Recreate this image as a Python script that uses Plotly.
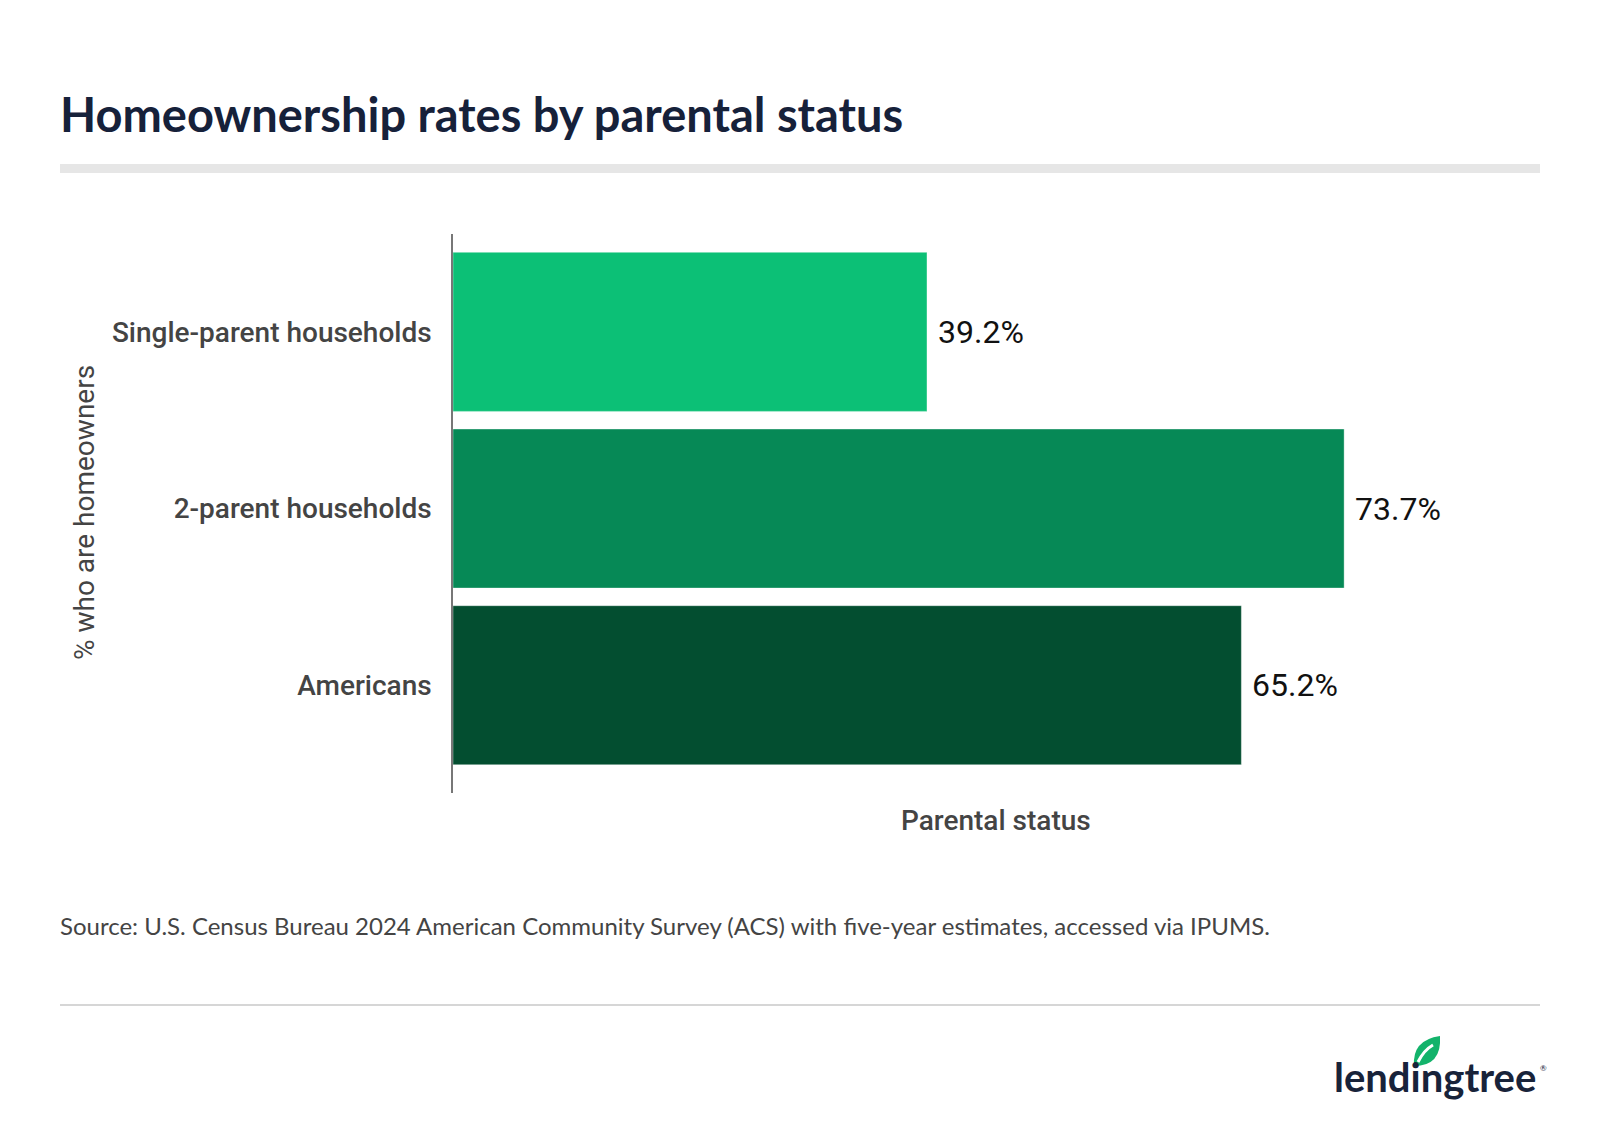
import plotly.graph_objects as go

categories = ["Single-parent households", "2-parent households", "Americans"]
values = [39.2, 73.7, 65.2]
bar_colors = ["#0cc076", "#068956", "#034e30"]

title_text = "Homeownership rates by parental status"
y_title = "% who are homeowners"
x_title = "Parental status"
source_text = "Source: U.S. Census Bureau 2024 American Community Survey (ACS) with five-year estimates, accessed via IPUMS."

W, H = 1600, 1128
L, R, T, B = 453, 60, 234, 335
PW = W - L - R
PH = H - T - B


def px(x):
    return (x - L) / PW


def py(y):
    return (H - B - y) / PH


fig = go.Figure()
fig.add_trace(go.Bar(
    x=values,
    y=categories,
    orientation="h",
    marker=dict(color=bar_colors, line=dict(color="rgba(255,255,255,0.35)", width=1)),
    hoverinfo="skip",
))

fig.update_layout(
    width=W, height=H,
    margin=dict(l=L, r=R, t=T, b=B, autoexpand=False),
    paper_bgcolor="white",
    plot_bgcolor="white",
    showlegend=False,
    bargap=0.1,
    xaxis=dict(range=[0, 89.9], showgrid=False, zeroline=False, showticklabels=False,
               ticks="", showline=False, fixedrange=True),
    yaxis=dict(type="category", categoryorder="array", categoryarray=categories,
               range=[2.61, -0.554], showgrid=False, zeroline=False,
               showline=True, linecolor="#777777", linewidth=1.5,
               ticks="", ticklabelstandoff=14,
               tickfont=dict(family="Roboto", size=28, color="#444444", weight=500)),
)

annotations = [
    dict(text=title_text, x=px(58), y=py(114), xanchor="left", yanchor="middle",
         font=dict(family="Lato", size=47, color="#16213a", weight=700)),
    dict(text=y_title, x=px(84), y=py(513), xanchor="center", yanchor="middle", textangle=-90,
         font=dict(family="Roboto", size=28, color="#444444")),
    dict(text=x_title, x=px(996), y=py(820), xanchor="center", yanchor="middle",
         font=dict(family="Roboto", size=28, color="#444444", weight=500)),
    dict(text=source_text, x=px(58), y=py(925), xanchor="left", yanchor="middle",
         font=dict(family="Lato", size=24, color="#444444")),
    dict(text="lendingtree", x=px(1538), y=py(1077), xanchor="right", yanchor="middle",
         font=dict(family="Lato", size=40, color="#18233a", weight=700)),
    dict(text="®", x=px(1538), y=py(1068), xanchor="left", yanchor="middle",
         font=dict(family="Lato", size=8, color="#18233a")),
]
for a in annotations:
    a.update(xref="paper", yref="paper", showarrow=False)

# value labels anchored to the bar ends in data coordinates
for cat, val in zip(categories, values):
    annotations.append(dict(
        text="{:.1f}%".format(val), x=val, y=cat, xref="x", yref="y",
        xanchor="left", yanchor="middle", xshift=9, showarrow=False,
        font=dict(family="Roboto", size=32, color="#111111"),
    ))
fig.update_layout(annotations=annotations)

# leaf path for logo (pixel coords converted to paper)
path = "M {} {} ".format(px(1414), py(1066))
path += "Q {} {} {} {} ".format(px(1412), py(1040), px(1440), py(1036))
path += "Q {} {} {} {} Z".format(px(1442), py(1066), px(1414), py(1066))
vein = "M {} {} Q {} {} {} {}".format(px(1418), py(1062), px(1424), py(1050), px(1433), py(1045))

shapes = [
    dict(type="rect", x0=px(60), x1=px(1540), y0=py(164), y1=py(173),
         fillcolor="#e6e6e6", line=dict(width=0)),
    dict(type="line", x0=px(60), x1=px(1540), y0=py(1005), y1=py(1005),
         line=dict(color="#d6d6d6", width=2)),
    dict(type="path", path=path, fillcolor="#13b36b", line=dict(width=0)),
    dict(type="path", path=vein, line=dict(color="white", width=3)),
]
for s in shapes:
    s.update(xref="paper", yref="paper")
fig.update_layout(shapes=shapes)

fig.write_html("out.html")
